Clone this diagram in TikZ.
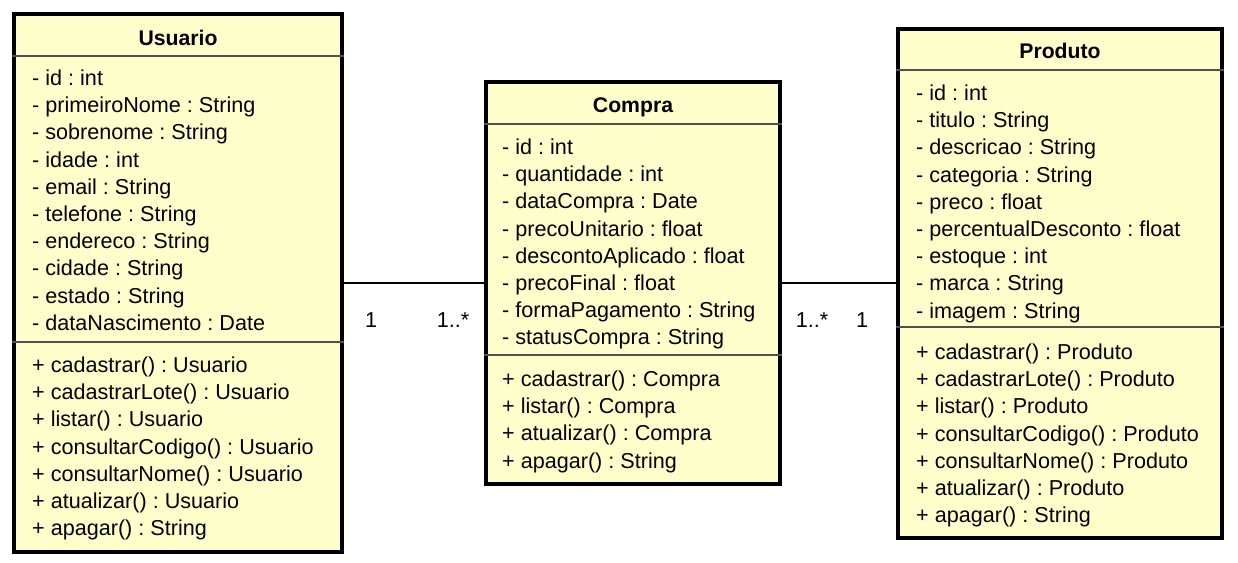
\documentclass[tikz,border=0pt]{standalone}
\usepackage{fontspec}
\setmainfont{Liberation Sans}
\frenchspacing
\definecolor{umlfill}{HTML}{FFFFCC}
\definecolor{sepcol}{HTML}{505050}
\begin{document}
\begin{tikzpicture}[x=1pt,y=-1pt,
  umlbox/.style={draw=black, line width=3.6pt, fill=umlfill, inner sep=0pt, rectangle},
  sepline/.style={draw=sepcol, line width=1.4pt},
  txt/.style={anchor=base west, inner sep=0pt, font=\fontsize{21.6}{26}\selectfont\frenchspacing},
  ttl/.style={anchor=base, inner sep=0pt, font=\fontsize{21.2}{26}\selectfont\bfseries},
  assoc/.style={draw=black, line width=1.5pt},
  mult/.style={anchor=base, inner sep=0pt, font=\fontsize{21.6}{26}\selectfont}]
\useasboundingbox (0,0) rectangle (1238,562);

% ---------- Usuario ----------
\node[umlbox, minimum width=328pt, minimum height=538pt] (usuario) at (178,283) {};
\draw[sepline] (usuario.west |- 0,56) -- (usuario.east |- 0,56);
\draw[sepline] (usuario.west |- 0,342) -- (usuario.east |- 0,342);
\node[ttl] (usuarioT) at (178,45.5) {Usuario};
\foreach \t [count=\i from 0] in {- id : int, - primeiroNome : String, - sobrenome : String, - idade : int, - email : String, - telefone : String, - endereco : String, - cidade : String, - estado : String, - dataNascimento : Date}
  \node[txt] (ua\i) at (32,85.5+27.2*\i) {\t};
\foreach \t [count=\i from 0] in {+ cadastrar() : Usuario, + cadastrarLote() : Usuario, + listar() : Usuario, + consultarCodigo() : Usuario, + consultarNome() : Usuario, + atualizar() : Usuario, + apagar() : String}
  \node[txt] (um\i) at (32,372.5+27.2*\i) {\t};

% ---------- Compra ----------
\node[umlbox, minimum width=294pt, minimum height=402pt] (compra) at (633,283) {};
\draw[sepline] (compra.west |- 0,124) -- (compra.east |- 0,124);
\draw[sepline] (compra.west |- 0,355) -- (compra.east |- 0,355);
\node[ttl] (compraT) at (633,112.5) {Compra};
\foreach \t [count=\i from 0] in {- id : int, - quantidade : int, - dataCompra : Date, - precoUnitario : float, - descontoAplicado : float, - precoFinal : float, - formaPagamento : String, - statusCompra : String}
  \node[txt] (ca\i) at (502,154.5+27.2*\i) {\t};
\foreach \t [count=\i from 0] in {+ cadastrar() : Compra, + listar() : Compra, + atualizar() : Compra, + apagar() : String}
  \node[txt] (cm\i) at (502,386.5+27.2*\i) {\t};

% ---------- Produto ----------
\node[umlbox, minimum width=324pt, minimum height=509pt] (produto) at (1060,283.5) {};
\draw[sepline] (produto.west |- 0,70) -- (produto.east |- 0,70);
\draw[sepline] (produto.west |- 0,327) -- (produto.east |- 0,327);
\node[ttl] (produtoT) at (1060,58.5) {Produto};
\foreach \t [count=\i from 0] in {- id : int, - titulo : String, - descricao : String, - categoria : String, - preco : float, - percentualDesconto : float, - estoque : int, - marca : String, - imagem : String}
  \node[txt] (pa\i) at (916,100.5+27.2*\i) {\t};
\foreach \t [count=\i from 0] in {+ cadastrar() : Produto, + cadastrarLote() : Produto, + listar() : Produto, + consultarCodigo() : Produto, + consultarNome() : Produto, + atualizar() : Produto, + apagar() : String}
  \node[txt] (pm\i) at (916,359.5+27.2*\i) {\t};

% ---------- associations ----------
\draw[assoc] (usuario.east) -- (compra.west);
\draw[assoc] (compra.east) -- (produto.west |- compra.east);
\node[mult] (m1) at (371,327.5) {1};
\node[mult] (m2) at (453,327.5) {1..*};
\node[mult] (m3) at (812,327.5) {1..*};
\node[mult] (m4) at (862,327.5) {1};
\end{tikzpicture}
\end{document}
